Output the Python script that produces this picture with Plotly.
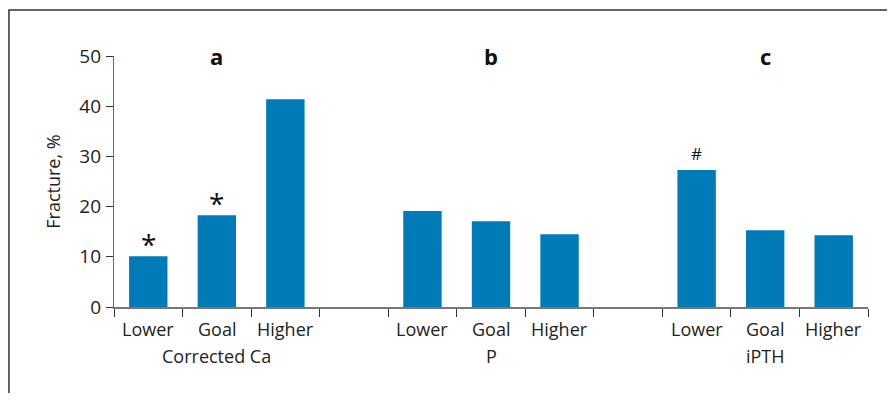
import plotly.graph_objects as go

groups = ["Corrected Ca", "P", "iPTH"]
panel_labels = ["a", "b", "c"]
levels = ["Lower", "Goal", "Higher"]
ca_values = [10.1, 18.3, 41.4]
p_values = [19.1, 17.1, 14.5]
pth_values = [27.3, 15.3, 14.3]
marks_ca = ["*", "*", ""]
marks_p = ["", "", ""]
marks_pth = ["#", "", ""]

all_values = [ca_values, p_values, pth_values]
all_marks = [marks_ca, marks_p, marks_pth]

BAR = "#007bb8"
FONT = "Open Sans"
TXT = "#222222"

xs, ys = [], []
for g, vals in enumerate(all_values):
    for i, v in enumerate(vals):
        xs.append(g * 4 + i)
        ys.append(v)

fig = go.Figure(go.Bar(x=xs, y=ys, marker_color=BAR, width=0.56, marker_line_width=0))

annotations = []
for g, name in enumerate(groups):
    c = g * 4 + 1
    annotations.append(dict(x=c, y=1.0, xref="x", yref="paper", text="<b>%s</b>" % panel_labels[g],
                            showarrow=False, font=dict(size=22, family=FONT, color="#111"),
                            yanchor="middle"))
    annotations.append(dict(x=c, y=0, xref="x", yref="paper", text=name, showarrow=False,
                            font=dict(size=18, family=FONT, color=TXT), yanchor="middle", yshift=-49))
    for i, lv in enumerate(levels):
        annotations.append(dict(x=g * 4 + i, y=0, xref="x", yref="paper", text=lv, showarrow=False,
                                font=dict(size=18, family=FONT, color=TXT), yanchor="middle", yshift=-22))
        m = all_marks[g][i]
        if m == "*":
            annotations.append(dict(x=g * 4 + i, y=all_values[g][i], xref="x", yref="y", text="*",
                                    showarrow=False, font=dict(size=28, family=FONT, color="#111"),
                                    yanchor="middle", yshift=12))
        elif m == "#":
            annotations.append(dict(x=g * 4 + i, y=all_values[g][i], xref="x", yref="y", text="#",
                                    showarrow=False, font=dict(size=17, family=FONT, color="#111"),
                                    yanchor="middle", yshift=16))

boundaries = [b - 0.5 for b in range(12)]

fig.update_layout(
    width=879, height=385,
    margin=dict(l=106, r=19, t=48, b=86),
    plot_bgcolor="white", paper_bgcolor="white",
    showlegend=False,
    annotations=annotations,
    xaxis=dict(range=[-0.5, 10.5], tickvals=boundaries, ticktext=[""] * len(boundaries),
               ticks="outside", ticklen=8, tickcolor="#333", tickwidth=1.2,
               showline=True, linecolor="#777", linewidth=1.5, showgrid=False, zeroline=False),
    yaxis=dict(range=[0, 50], tickvals=[0, 10, 20, 30, 40, 50], ticks="outside", ticklen=7,
               tickcolor="#333", tickwidth=1.2, showline=True, linecolor="#666", linewidth=1.3,
               showgrid=False, zeroline=False, ticklabelstandoff=1,
               tickfont=dict(size=19, family=FONT, color=TXT),
               title=dict(text="Fracture, %", font=dict(size=18, family=FONT, color=TXT), standoff=14)),
    shapes=[dict(type="rect", xref="paper", yref="paper", x0=-0.1393, x1=1.2, y0=-0.6, y1=1.183,
                 line=dict(color="#333", width=1.5), fillcolor="rgba(0,0,0,0)", layer="below")],
)

fig.write_html("out.html")
